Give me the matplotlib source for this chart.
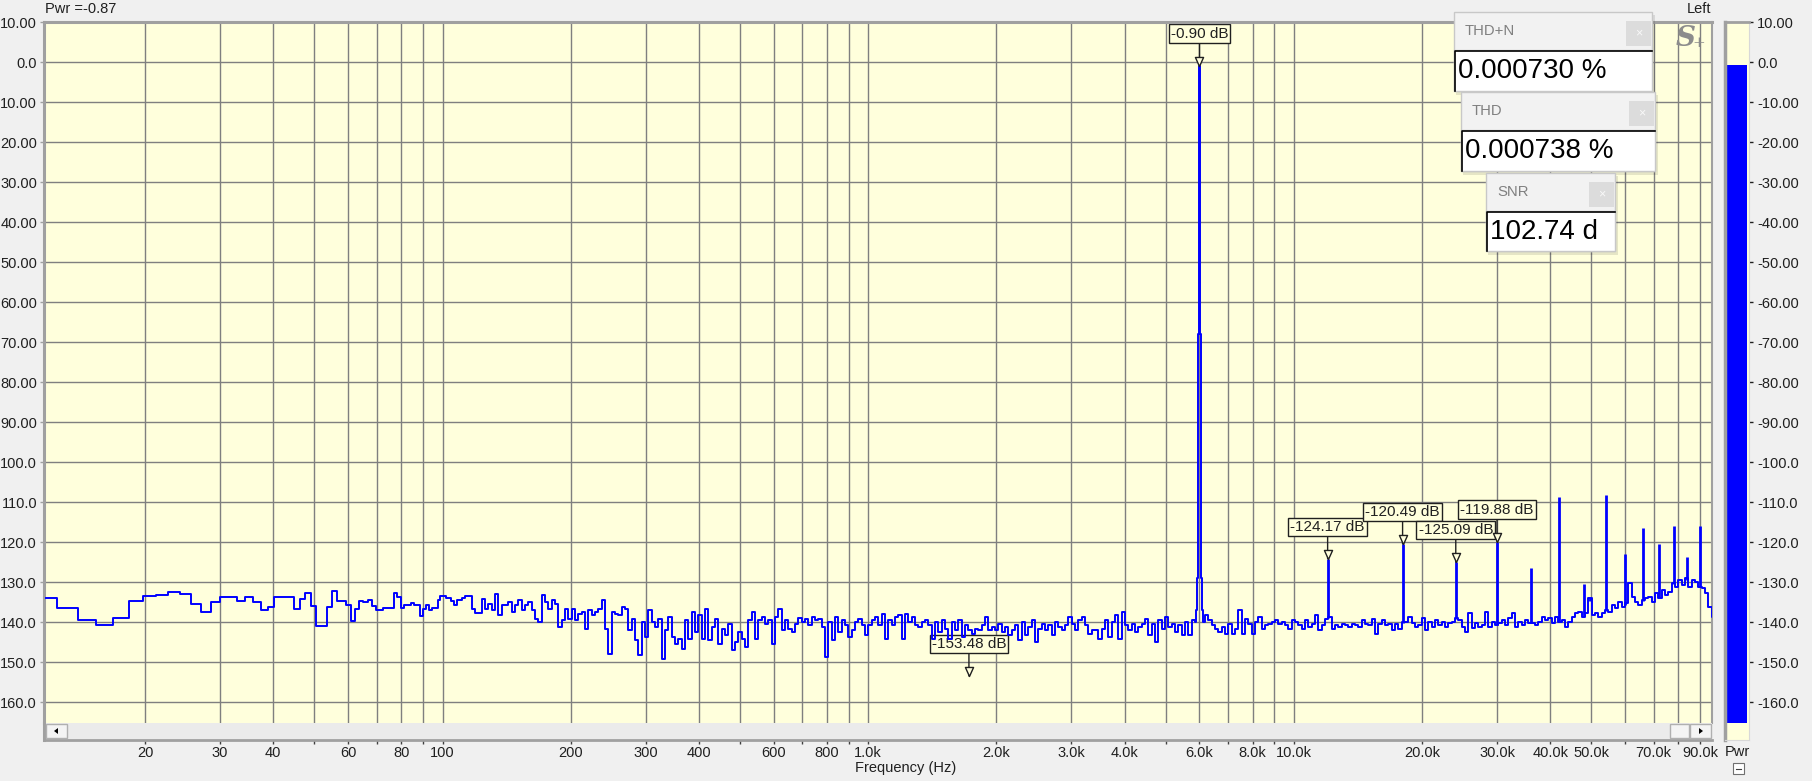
import matplotlib.pyplot as plt
import matplotlib.patches as mpatches
import numpy as np
from matplotlib.lines import Line2D
from matplotlib.path import Path
from matplotlib.ticker import NullLocator

W, H, DPI = 1812, 781, 100

BG = "#f0f0f0"
PLOT_BG = "#ffffdc"
GRID = "#7f7f7f"
FRAME = "#a0a0a0"
TRACE = "#0000ff"
INK = "#202020"

plt.rcParams["font.family"] = ["Liberation Sans", "DejaVu Sans"]

# ---- data ----
# FFT bin width (Hz); the lowest bins are drawn one step per bin
BIN_HZ = 1.4648
LOW_FIRST_BIN = 8
low_db = [
    -133.9, -136.4, -139.5, -140.8, -139.1,
    -134.7, -133.6, -133.3, -132.4, -133.1, -135.4, -137.6, -134.9,
    -133.7, -133.8, -134.7, -133.8, -135.0, -136.9, -136.2, -133.8, -133.8, -133.8,
    -136.7, -134.2, -132.8, -136.0, -141.0, -141.0, -136.2, -132.3, -134.7, -134.7,
    -135.8, -139.7, -136.7, -134.7, -135.0, -134.4, -136.0, -136.9, -136.9, -136.4,
    -136.4, -136.4, -132.8, -133.7, -136.5, -135.8, -135.8, -135.2, -135.8, -135.8,
    -138.5, -136.7, -135.8, -137.1, -136.5, -136.5, -134.6, -133.6, -133.6, -134.0,
    -134.0, -134.8, -135.8,
]

# noise floor read at even spacing along the log axis, 110 Hz .. 5.8 kHz
mid_span_hz = (109.9, 5804)
mid_db = [
    -134.6, -134.0, -133.6, -133.6, -136.7, -137.8, -137.8, -134.3, -136.7, -135.4,
    -137.1, -132.9, -138.2, -135.8, -135.8, -135.0, -137.5, -135.8, -134.6, -137.1,
    -135.8, -135.0, -137.1, -139.2, -140.0, -133.2, -135.0, -136.7, -134.6, -135.4,
    -141.3, -139.6, -136.7, -139.2, -136.7, -139.6, -137.9, -137.5, -141.7, -137.1,
    -138.2, -137.5, -136.7, -134.6, -141.7, -147.9, -137.5, -137.9, -138.3, -136.3,
    -136.7, -142.1, -139.2, -144.6, -148.2, -140.0, -143.8, -137.1, -140.0, -141.3,
    -139.2, -149.2, -142.1, -138.8, -143.8, -145.4, -144.2, -146.7, -139.6, -144.2,
    -137.5, -142.5, -138.3, -144.2, -136.7, -144.6, -141.3, -139.2, -145.4, -141.7,
    -143.3, -140.4, -147.1, -145.0, -142.5, -144.2, -146.3, -139.6, -137.5, -144.2,
    -139.6, -138.8, -140.4, -139.6, -145.4, -138.8,
    -136.7, -142.1, -139.6, -141.7, -142.5, -140.4, -139.0, -140.0, -139.2, -140.8,
    -138.8, -139.6, -139.2, -141.3, -148.8, -140.0, -144.6, -138.8, -142.5, -139.6,
    -140.8, -143.8, -142.1, -140.0, -139.2, -140.8, -143.3, -140.8, -139.6, -138.8,
    -140.8, -137.9, -144.2, -139.6, -140.8, -138.8, -138.3, -144.2, -137.9, -140.0,
    -138.8, -140.8, -141.3, -140.0, -139.6, -140.8, -144.2, -140.0, -142.5, -139.6,
    -141.7, -144.2, -140.0, -142.1, -139.6, -143.8, -140.8, -142.1, -142.9, -141.7,
    -142.1, -140.8, -138.8, -142.1, -141.3, -142.1, -140.4, -142.5, -141.3, -143.3,
    -142.1, -140.8, -144.6, -140.0, -143.3, -141.3, -139.6, -145.0, -141.7, -140.4,
    -142.1, -140.8, -143.3, -140.0, -141.3, -142.1, -140.8, -138.8, -140.4, -142.1,
    -139.6, -138.8, -140.8, -142.9, -142.1, -142.1,
    -144.2, -141.7, -139.6, -143.8, -140.0, -138.3, -144.2, -137.5, -140.8, -142.1,
    -140.4, -142.5, -141.3, -140.4, -139.2, -143.3, -140.4, -145.0, -139.6, -141.7,
    -138.8, -141.3, -140.4, -142.5, -140.8, -143.3, -140.0, -143.3, -139.6,
]

# 6 kHz test tone
fund_hz = [5880, 5905, 5925, 5950, 5970, 5985, 6015, 6030, 6050, 6080, 6105, 6135]
fund_db = [-140.0, -137.0, -129.0, -114.0, -68.0, -0.9, -0.9, -68.0, -107.0,
           -129.0, -137.0, -140.0]

post_span_hz = (6237, 18066)
post_db = [
    -138.3, -139.6, -140.8, -141.7, -142.5, -141.3, -142.9, -140.4, -142.9, -141.7,
    -137.1, -142.9, -139.2, -140.4, -142.9, -140.0, -138.8, -141.7, -140.8, -140.4,
    -140.0, -139.6, -140.4, -140.0, -140.8, -141.7, -139.6, -140.0, -140.8, -141.7,
    -139.6, -141.3, -140.4, -138.3, -142.1, -140.8, -139.2, -138.8, -141.7, -140.8,
    -141.3, -140.4, -140.8, -141.3, -140.4, -140.8, -141.3, -139.6, -140.4, -140.8,
    -139.2, -142.9, -140.4, -139.6, -140.8, -140.4, -142.1, -140.4, -141.7, -140.0,
]

high_span_hz = (18397, 96600)
high_db = [
    -139.9, -138.7, -140.3, -141.2, -140.8, -139.1, -142.0, -139.9, -141.2, -139.5,
    -140.8, -139.9, -141.2, -140.3, -139.9, -139.1, -139.5, -141.2, -142.4, -137.8,
    -141.6, -140.3, -141.2, -140.8, -137.4, -141.2, -139.9, -140.8, -140.3, -139.5,
    -140.8, -139.1, -137.8, -141.2, -139.9, -140.8, -139.5, -140.3, -140.2, -140.8,
    -139.9, -138.7, -139.5, -139.1, -140.3, -138.7, -139.9, -139.5, -141.2, -139.9,
    -138.7, -137.8, -137.4, -138.7, -137.8, -134.1, -138.3, -137.8, -138.7, -137.8,
    -137.0, -137.4, -135.8, -136.6, -134.9, -136.2, -135.3, -130.3, -133.7, -134.9,
    -135.8, -134.5, -134.1, -133.7, -134.9, -132.8, -134.1, -132.0, -133.3, -132.4,
    -130.3, -131.2, -129.5, -130.8, -129.1, -131.2, -129.5, -129.9, -131.2, -131.6,
    -132.8, -136.2, -138.7,
]

# harmonic / spur peaks
harm_hz = [12000, 18000, 24000, 30000, 36000, 42000, 48000, 49700, 54000,
           60000, 66000, 72000, 78000, 84000, 90000]
harm_db = [-124.17, -120.49, -125.09, -119.88, -126.5, -108.75, -130.5, -134.0,
           -108.25, -123.0, -116.5, -120.5, -116.0, -123.75, -116.0]

# cursor markers
marker_hz = [6000, 12000, 18000, 24000, 30000, 1724]
marker_db = [-0.90, -124.17, -120.49, -125.09, -119.88, -153.48]

tick_hz = [20, 30, 40, 60, 80, 100, 200, 300, 400, 600, 800, 1000, 2000, 3000,
           4000, 6000, 8000, 10000, 20000, 30000, 40000, 50000, 70000, 90000]
tick_labels = ["20", "30", "40", "60", "80", "100", "200", "300", "400", "600",
               "800", "1.0k", "2.0k", "3.0k", "4.0k", "6.0k", "8.0k", "10.0k",
               "20.0k", "30.0k", "40.0k", "50.0k", "70.0k", "90.0k"]
level_ticks = list(range(10, -170, -10))

meter_db = -0.87
readout_titles = ["THD+N", "THD", "SNR"]
readout_values = ["0.000730 %", "0.000738 %", "102.74 d"]

# ---- layout (pixels) ----
X_LIM = (11.58, 95970)
Y_TOP, Y_BOT = 10, -165.25
readout_frames = [(1454, 12, 1652, 91), (1461, 92, 1655, 171), (1486, 173, 1615, 251)]
readout_field_top = [50, 130, 211]


def rect_px(x0, y0, x1, y1):
    return [x0 / W, 1 - y1 / H, (x1 - x0) / W, (y1 - y0) / H]


def box_px(fig, x0, y0, x1, y1, **kw):
    r = mpatches.Rectangle((x0 / W, 1 - y1 / H), (x1 - x0) / W, (y1 - y0) / H,
                           transform=fig.transFigure, **kw)
    fig.add_artist(r)
    return r


def line_px(fig, xs, ys, **kw):
    fig.add_artist(Line2D([x / W for x in xs], [1 - y / H for y in ys],
                          transform=fig.transFigure, **kw))


def text_px(fig, x, y, s, **kw):
    return fig.text(x / W, 1 - y / H, s, **kw)


def tri_px(fig, pts, **kw):
    p = mpatches.Polygon([(x / W, 1 - y / H) for x, y in pts], closed=True,
                         transform=fig.transFigure, **kw)
    fig.add_artist(p)


def level_label(v, signed):
    if v == 0:
        return "0.0"
    a = v if signed else abs(v)
    return f"{a:.2f}" if abs(v) < 100 else f"{a:.1f}"


fig = plt.figure(figsize=(W / DPI, H / DPI), dpi=DPI, facecolor=BG)

# main spectrum axes
ax = fig.add_axes(rect_px(44, 22, 1712, 723), facecolor=PLOT_BG)
ax.set_xscale("log")
ax.set_xlim(*X_LIM)
ax.set_ylim(Y_BOT, Y_TOP)
grid_hz = [m * d for d in (10, 100, 1000, 10000) for m in range(1, 10)
           if X_LIM[0] < m * d < X_LIM[1]]
ax.set_xticks(grid_hz)
ax.xaxis.set_minor_locator(NullLocator())
ax.set_xticklabels([])
ax.tick_params(axis="x", length=0)
ax.set_yticks(level_ticks)
ax.set_yticklabels([level_label(v, False) for v in level_ticks], fontsize=10.5, color=INK)
ax.tick_params(axis="y", length=3, width=1, color=FRAME, pad=2)
ax.grid(True, color=GRID, lw=1.0)
ax.set_axisbelow(True)
ax.spines["bottom"].set_visible(False)
ax.spines["left"].set_color(FRAME)
ax.spines["left"].set_linewidth(2.2)
ax.spines["top"].set_color(FRAME)
ax.spines["top"].set_linewidth(2.2)
ax.spines["right"].set_color(FRAME)
ax.spines["right"].set_linewidth(1.5)

low_hz = BIN_HZ * np.arange(LOW_FIRST_BIN, LOW_FIRST_BIN + len(low_db))
mid_hz = np.geomspace(*mid_span_hz, len(mid_db))
post_hz = np.geomspace(*post_span_hz, len(post_db))
high_hz = np.geomspace(*high_span_hz, len(high_db))
f = np.concatenate([low_hz, mid_hz, fund_hz, post_hz, high_hz])
d = np.concatenate([low_db, mid_db, fund_db, post_db, high_db])
order = np.argsort(f)
f, d = f[order], d[order]
ax.plot(f, d, color=TRACE, lw=1.4, drawstyle="steps-mid", zorder=3)

base = np.interp(np.log10(harm_hz), np.log10(f), d)
ax.vlines(harm_hz, base, harm_db, color=TRACE, lw=2.0, zorder=3)

# cursor markers: box, leader and hollow triangle
tip = Path([(0, 0), (-0.45, 1.0), (0.45, 1.0), (0, 0)],
           [Path.MOVETO, Path.LINETO, Path.LINETO, Path.CLOSEPOLY])
for hz, db in zip(marker_hz, marker_db):
    ax.annotate(f"{db:.2f} dB", xy=(hz, db), xytext=(0, 25), textcoords="offset pixels",
                ha="center", va="bottom", fontsize=11, color=INK, zorder=2.5,
                bbox=dict(boxstyle="square,pad=0.14", fc=PLOT_BG, ec=INK, lw=1),
                arrowprops=dict(arrowstyle="-", color=INK, lw=1, shrinkA=0, shrinkB=0))
ax.plot(marker_hz, marker_db, ls="none", marker=tip, ms=13, mfc=PLOT_BG, mec=INK,
        mew=1, zorder=4)

# scrollbar strip with frequency ticks
sc = fig.add_axes(rect_px(44, 723, 1712, 740), facecolor="#ebebeb")
sc.set_xscale("log")
sc.set_xlim(*X_LIM)
sc.set_ylim(0, 1)
sc.set_yticks([])
label_for = dict(zip(tick_hz, tick_labels))
sc.set_xticks(grid_hz)
sc.xaxis.set_minor_locator(NullLocator())
sc.set_xticklabels([label_for.get(g, "") for g in grid_hz], fontsize=10.5, color=INK)
sc.tick_params(axis="x", direction="out", length=3, width=1, color="#404040", pad=1)
for side in ("top", "right"):
    sc.spines[side].set_visible(False)
sc.spines["bottom"].set_color(FRAME)
sc.spines["bottom"].set_linewidth(2)
sc.spines["left"].set_color(FRAME)
sc.spines["left"].set_linewidth(2.2)

box_px(fig, 46, 724, 67, 738, fc="#f4f4f4", ec="#b0b0b0", lw=1, zorder=5)
tri_px(fig, [(54, 731), (58, 728), (58, 734)], fc="black", ec="none", zorder=6)
box_px(fig, 1670, 724, 1689, 738, fc="#f4f4f4", ec="#b0b0b0", lw=1, zorder=5)
box_px(fig, 1690, 724, 1711, 738, fc="#f4f4f4", ec="#b0b0b0", lw=1, zorder=5)
tri_px(fig, [(1703, 731), (1699, 728), (1699, 734)], fc="black", ec="none", zorder=6)

text_px(fig, 906, 768, "Frequency (Hz)", ha="center", va="center", fontsize=10.5, color=INK)
text_px(fig, 45, 9, "Pwr =-0.87", ha="left", va="center", fontsize=10.5, color=INK)
text_px(fig, 1711, 9, "Left", ha="right", va="center", fontsize=10.5, color=INK)

# level meter
mx = fig.add_axes(rect_px(1725, 22, 1749, 740), facecolor=PLOT_BG)
mx.set_xlim(-0.5, 0.5)
mx.set_ylim(-169.5, Y_TOP)
mx.bar(0, meter_db - Y_BOT, bottom=Y_BOT, width=20 / 24, color=TRACE)
mx.set_xticks([])
mx.yaxis.tick_right()
mx.set_yticks(level_ticks)
mx.set_yticklabels([level_label(v, True) for v in level_ticks], fontsize=10.5, color=INK)
mx.tick_params(axis="y", length=3, width=1, color=INK, pad=3)
mx.spines["left"].set_color(FRAME)
mx.spines["left"].set_linewidth(2.5)
mx.spines["top"].set_color(FRAME)
mx.spines["top"].set_linewidth(2)
mx.spines["right"].set_color("#d8d8d8")
mx.spines["bottom"].set_color("#d8d8d8")
text_px(fig, 1737, 752, "Pwr", ha="center", va="center", fontsize=10.5, color=INK)
box_px(fig, 1733, 763, 1744, 774, fc="white", ec="#707070", lw=0.8)
line_px(fig, [1736, 1741], [768.5, 768.5], color="#404040", lw=0.8)

# logo
text_px(fig, 1686, 38, "S", ha="center", va="center", fontsize=20, color="#8c8c8c",
        family="DejaVu Serif", style="italic", weight="bold")
text_px(fig, 1699, 43, "+", ha="center", va="center", fontsize=11, color="#8c8c8c",
        family="DejaVu Serif")

# floating readout windows
for title, value, (x0, y0, x1, y1), ft in zip(readout_titles, readout_values,
                                              readout_frames, readout_field_top):
    box_px(fig, x0 + 2, y0 + 3, x1 + 3, y1 + 4, fc="black", ec="none", alpha=0.10, zorder=8)
    box_px(fig, x0, y0, x1, y1, fc="#f2f2f2", ec="#c8c8c8", lw=1, zorder=9)
    box_px(fig, x0, ft, x1, y1, fc="white", ec="#c8c8c8", lw=1, zorder=10)
    line_px(fig, [x0 + 0.5, x0 + 0.5, x1], [y1, ft + 0.5, ft + 0.5], color="black",
            lw=1.2, zorder=11)
    box_px(fig, x1 - 26, y0 + 9, x1 - 1, y0 + 34, fc="#dcdcdc", ec="none", zorder=10)
    text_px(fig, x1 - 13.5, y0 + 21.5, "\u00d7", ha="center", va="center", fontsize=9,
            color="#f8f8f8", zorder=11)
    text_px(fig, x0 + 11, y0 + 19, title, ha="left", va="center", fontsize=10.7,
            color="#808080", zorder=11)
    text_px(fig, x0 + 4, ft + 21, value, ha="left", va="center", fontsize=20,
            color="black", zorder=11)

fig.savefig("out.png", dpi=DPI, facecolor=BG)
